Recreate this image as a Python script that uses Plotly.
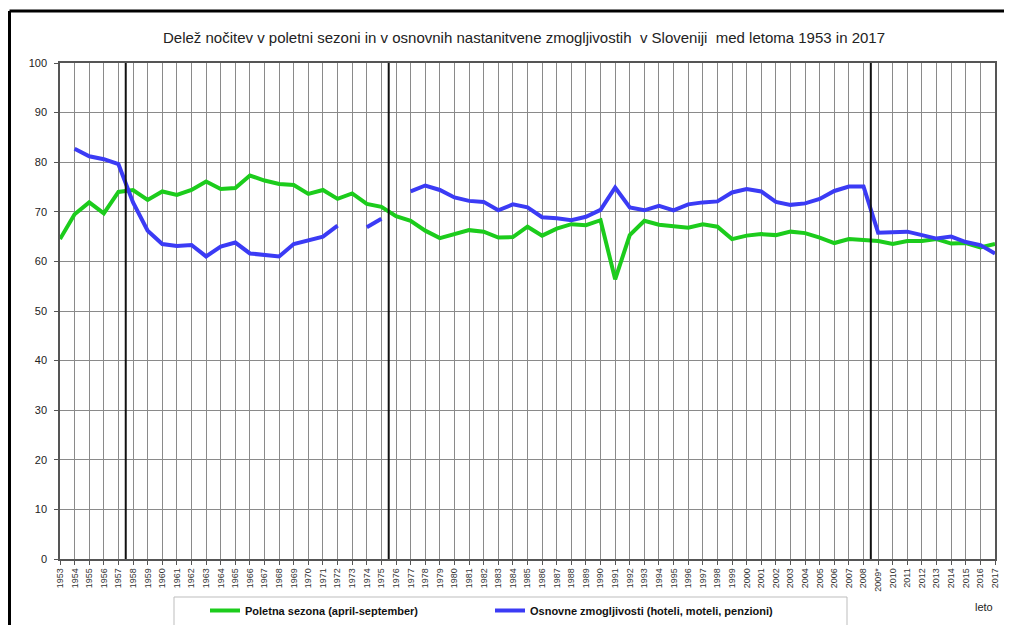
import plotly.graph_objects as go

years = list(range(1953, 2018))
tick_labels = [("2009*" if y == 2009 else str(y)) for y in years]

poletna = [64.5, 69.5, 71.9, 69.7, 74.0, 74.4, 72.4, 74.1, 73.4, 74.4,
           76.1, 74.6, 74.8, 77.3, 76.3, 75.6, 75.4, 73.6, 74.4, 72.6,
           73.7, 71.6, 71.0, 69.1, 68.2, 66.2, 64.7, 65.6, 66.3, 66.0,
           64.8, 64.9, 67.0, 65.2, 66.6, 67.5, 67.3, 68.3, 56.4, 65.3,
           68.2, 67.4, 67.2, 66.8, 67.5, 67.0, 64.5, 65.2, 65.5, 65.3,
           66.0, 65.7, 64.8, 63.7, 64.5, 64.3, 64.1, 63.5, 64.1, 64.1,
           64.5, 63.6, 63.7, 62.8, 63.5]

osnovne = [None, 82.7, 81.2, 80.6, 79.6, 71.9, 66.2, 63.5, 63.1, 63.3,
           61.0, 63.0, 63.8, 61.6, 61.4, 61.0, 63.5, 64.3, 65.0, 67.2,
           None, 66.9, 68.6, None, 74.1, 75.3, 74.4, 72.9, 72.2, 72.0,
           70.3, 71.5, 70.9, 68.9, 68.7, 68.3, 69.0, 70.4, 74.9, 70.9,
           70.3, 71.2, 70.3, 71.5, 71.9, 72.1, 73.9, 74.6, 74.1, 72.0,
           71.4, 71.7, 72.6, 74.2, 75.1, 75.1, 65.8, 65.8, 66.0, 65.3,
           64.6, 65.0, 63.9, 63.3, 61.6]

break_years = [1957.5, 1975.5, 2008.5]

title_text = ("Delež nočitev v poletni sezoni in v osnovnih nastanitvene zmogljivostih"
              "  v Sloveniji  med letoma 1953 in 2017")

# figure geometry (page has 8px body margin)
W, H = 1004, 617
ML, MR, MT, MB = 52, 17, 55, 66
PW, PH = W - ML - MR, H - MT - MB


def px_x(x):
    return (x - ML) / PW


def px_y(y):
    return (H - MB - y) / PH


fig = go.Figure()
fig.add_trace(go.Scatter(x=years, y=poletna, mode="lines",
                         name="Poletna sezona (april-september)",
                         line=dict(color="#1ccc1c", width=4), connectgaps=False))
fig.add_trace(go.Scatter(x=years, y=osnovne, mode="lines",
                         name="Osnovne zmogljivosti (hoteli, moteli, penzioni)",
                         line=dict(color="#3b3bf5", width=4), connectgaps=False))

shapes = []
for b in break_years:
    shapes.append(dict(type="line", xref="x", yref="y", x0=b, x1=b, y0=0, y1=100,
                       line=dict(color="#111111", width=2), layer="above"))
# outer frame (top and left)
shapes.append(dict(type="line", xref="paper", yref="paper",
                   x0=px_x(1.5), x1=px_x(W + 5), y0=px_y(3), y1=px_y(3),
                   line=dict(color="black", width=3)))
shapes.append(dict(type="line", xref="paper", yref="paper",
                   x0=px_x(1.5), x1=px_x(1.5), y0=px_y(3), y1=px_y(H + 10),
                   line=dict(color="black", width=3)))
# legend box
shapes.append(dict(type="rect", xref="paper", yref="paper",
                   x0=px_x(166), x1=px_x(839), y0=px_y(589), y1=px_y(H + 20),
                   line=dict(color="#bdbdbd", width=1), fillcolor="rgba(0,0,0,0)"))

fig.update_layout(
    width=W, height=H,
    margin=dict(l=ML, r=MR, t=MT, b=MB, autoexpand=False),
    paper_bgcolor="white", plot_bgcolor="white",
    font=dict(family="Liberation Sans, Arial, sans-serif", color="#222222"),
    title=dict(text=title_text, x=px_x(516), xref="paper", xanchor="center",
               y=1 - 30 / H, yanchor="middle",
               font=dict(size=15, color="#222222")),
    showlegend=True,
    legend=dict(orientation="h", x=px_x(197), xanchor="left", y=px_y(588), yanchor="top",
                borderwidth=0, bgcolor="rgba(0,0,0,0)",
                font=dict(size=11, color="#111111", weight="bold"),
                entrywidth=240, entrywidthmode="pixels",
                itemwidth=30, tracegroupgap=0),
    shapes=shapes,
    annotations=[dict(text="leto", xref="paper", yref="paper",
                      x=px_x(987), y=px_y(599), xanchor="right", yanchor="middle",
                      showarrow=False, font=dict(size=11, color="#222222"))],
)

fig.update_xaxes(range=[1953, 2017], tickmode="array", tickvals=years,
                 ticktext=tick_labels, tickangle=-90, automargin=False,
                 tickfont=dict(size=9, color="#333333"),
                 showgrid=True, gridcolor="#8a8a8a", gridwidth=1.3,
                 ticks="outside", ticklen=4, tickcolor="#555555",
                 showline=True, linecolor="#555555", linewidth=1.5, mirror=True,
                 zeroline=False)
fig.update_yaxes(range=[0, 100], tickmode="array", tickvals=list(range(0, 101, 10)),
                 tickfont=dict(size=11, color="#222222"), automargin=False,
                 ticklabelstandoff=5,
                 showgrid=True, gridcolor="#8a8a8a", gridwidth=1.3,
                 ticks="outside", ticklen=4, tickcolor="#555555",
                 showline=True, linecolor="#555555", linewidth=1.5, mirror=True,
                 zeroline=False)

fig.write_html("out.html")
